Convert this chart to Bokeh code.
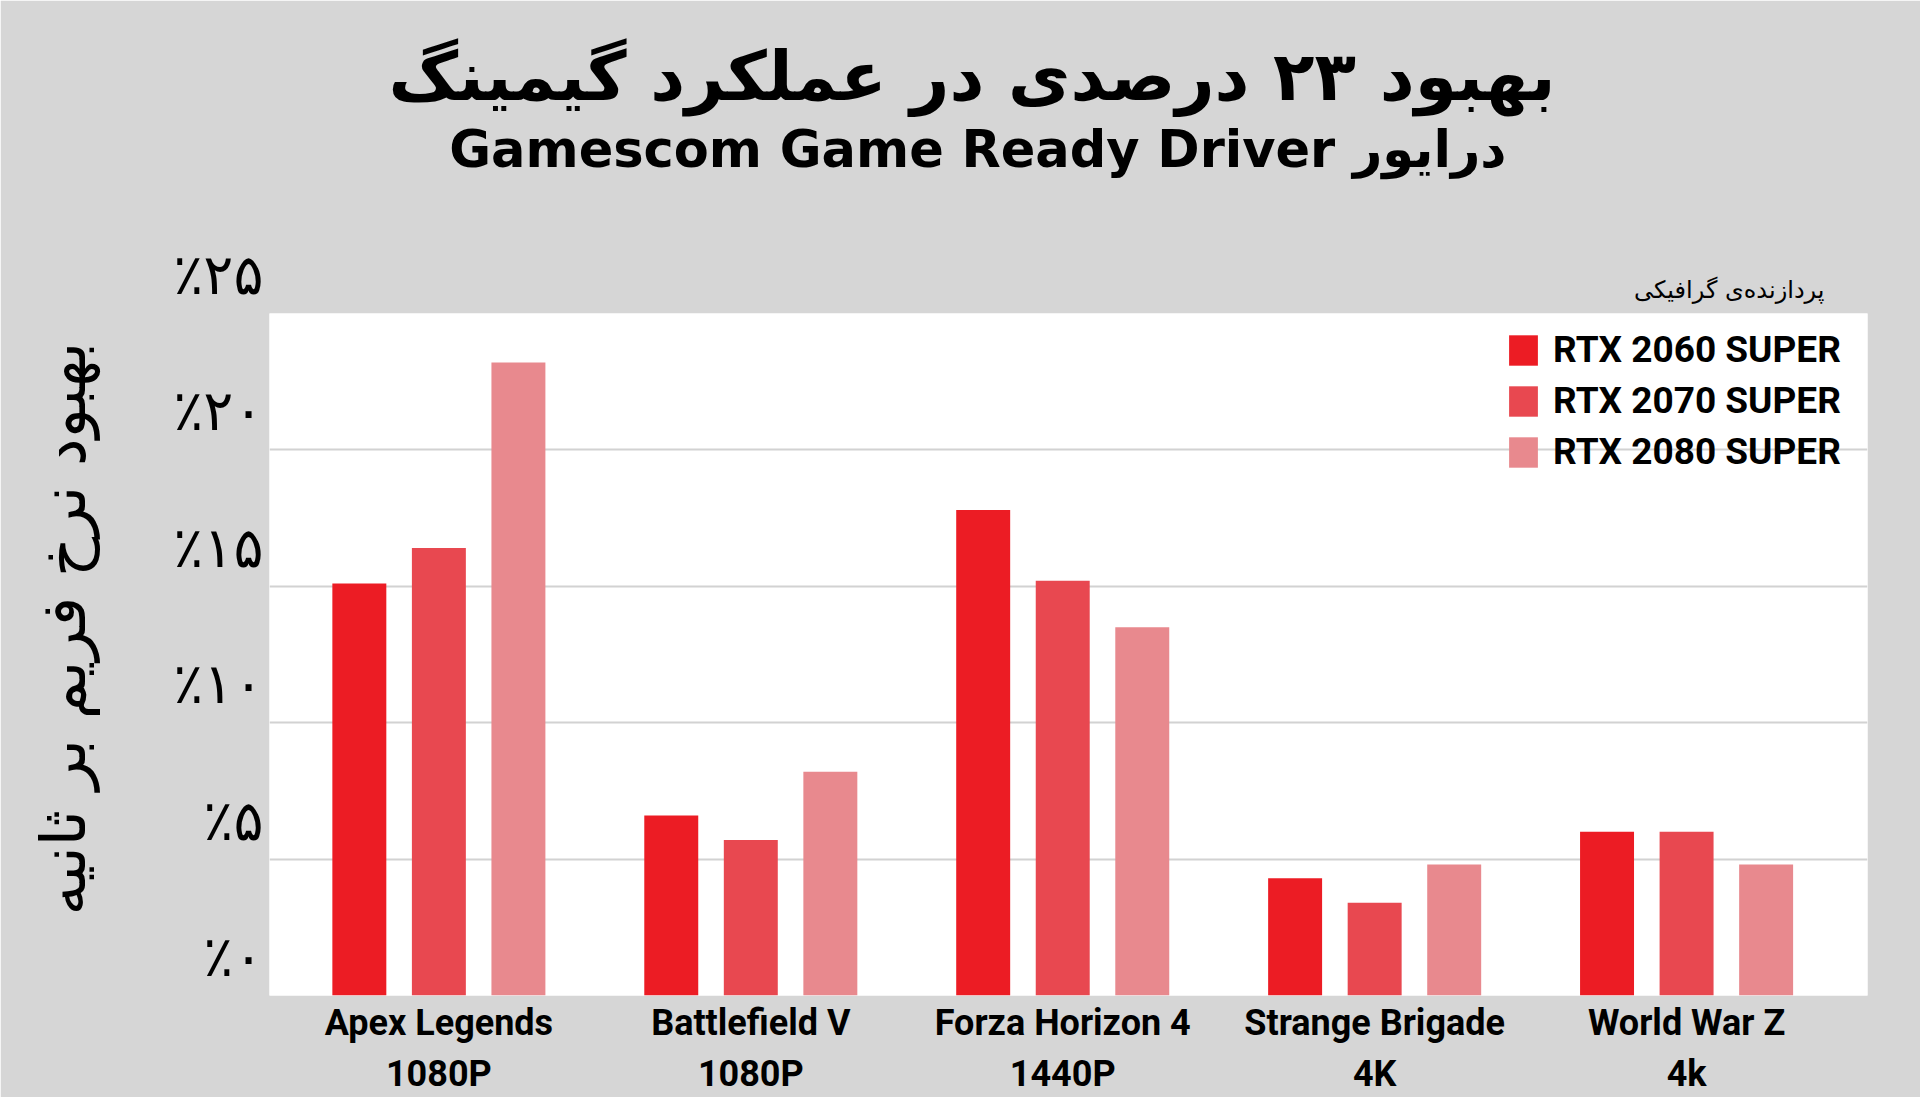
from bokeh.plotting import figure
from bokeh.models import (ColumnDataSource, Range1d, FixedTicker, LinearAxis,
                          Legend, LegendItem, Title)
from bokeh.transform import dodge
from bokeh.embed import file_html
from bokeh.resources import INLINE

# ---------------- data ----------------
games = ["Apex Legends", "Battlefield V", "Forza Horizon 4", "Strange Brigade", "World War Z"]
resolutions = ["1080P", "1080P", "1440P", "4K", "4k"]
gpus = ["RTX 2060 SUPER", "RTX 2070 SUPER", "RTX 2080 SUPER"]
rtx2060 = [15.1, 6.6, 17.8, 4.3, 6.0]
rtx2070 = [16.4, 5.7, 15.2, 3.4, 6.0]
rtx2080 = [23.2, 8.2, 13.5, 4.8, 4.8]
y_ticks = [0, 5, 10, 15, 20, 25]
y_tick_labels = ["٪۰", "٪۵", "٪۱۰", "٪۱۵", "٪۲۰", "٪۲۵"]

title_text = "بهبود ۲۳ درصدی در عملکرد گیمینگ"
subtitle_text = "Gamescom Game Ready Driver درایور"
y_title = "بهبود نرخ فریم بر ثانیه"
legend_title = "پردازنده‌ی گرافیکی"

colors = ["#ec1c24", "#e84850", "#e8898e"]
BG = "#d6d6d6"
FA_FONT = "DejaVu Sans"
EN_FONT = "Roboto"

idx = list(range(len(games)))
src = ColumnDataSource(dict(x=idx, rtx2060=rtx2060, rtx2070=rtx2070, rtx2080=rtx2080))

p = figure(width=1920, height=1097, output_backend="svg", toolbar_location=None,
           x_range=Range1d(-0.543, 4.58), y_range=Range1d(0, 25),
           min_border_left=269, min_border_right=53, min_border_top=313,
           min_border_bottom=102, x_axis_location=None)
p.background_fill_color = "white"
p.border_fill_color = BG
p.outline_line_color = None

# ---------------- bars ----------------
offsets = [-0.255, 0.0, 0.255]
keys = ["rtx2060", "rtx2070", "rtx2080"]
renderers = []
for off, key, col in zip(offsets, keys, colors):
    r = p.vbar(x=dodge("x", off, range=p.x_range), top=key, bottom=0, width=0.173,
               source=src, fill_color=col, line_color=None)
    renderers.append(r)

# ---------------- grid ----------------
p.xgrid.visible = False
p.ygrid.ticker = FixedTicker(ticks=y_ticks)
p.ygrid.grid_line_color = "#d2d2d2"
p.ygrid.grid_line_width = 2

# ---------------- y axis ----------------
ya = p.yaxis[0]
ya.ticker = FixedTicker(ticks=y_ticks)
# trailing newline lifts each label slightly above its grid line, as in the original
ya.major_label_overrides = {t: lab + "\n" for t, lab in zip(y_ticks, y_tick_labels)}
ya.major_label_text_font = FA_FONT
ya.major_label_text_font_size = "56px"
ya.major_label_text_color = "black"
ya.major_label_standoff = 6
ya.axis_line_color = None
ya.major_tick_line_color = None
ya.minor_tick_line_color = None
ya.major_tick_out = 0
ya.major_tick_in = 0
ya.axis_label = "\u00a0\u00a0\u2009" + y_title
ya.axis_label_text_font = FA_FONT
ya.axis_label_text_font_size = "62px"
ya.axis_label_text_font_style = "normal"
ya.axis_label_text_color = "black"
ya.axis_label_standoff = 70

# ---------------- x axes (two rows of labels) ----------------
def make_xaxis(labels, standoff):
    ax = LinearAxis(ticker=FixedTicker(ticks=idx),
                    major_label_overrides=dict(zip(idx, labels)))
    ax.major_label_text_font = EN_FONT
    ax.major_label_text_font_style = "bold"
    ax.major_label_text_font_size = "36px"
    ax.major_label_text_color = "black"
    ax.major_label_standoff = standoff
    ax.axis_line_color = None
    ax.major_tick_line_color = None
    ax.minor_tick_line_color = None
    ax.major_tick_out = 0
    ax.major_tick_in = 0
    return ax

p.add_layout(make_xaxis(games, 6), "below")
p.add_layout(make_xaxis(resolutions, 6), "below")

# ---------------- legend ----------------
legend = Legend(items=[LegendItem(label=g, renderers=[r]) for g, r in zip(gpus, renderers)],
                location=(1236, 522))
legend.background_fill_alpha = 0
legend.border_line_color = None
legend.padding = 0
legend.margin = 0
legend.spacing = 8
legend.glyph_width = 36
legend.glyph_height = 38
legend.label_height = 37
legend.label_standoff = 12
legend.label_text_font = EN_FONT
legend.label_text_font_style = "bold"
legend.label_text_font_size = "37px"
legend.label_text_color = "black"
p.add_layout(legend)

# ---------------- titles (stacked outward from the plot area) ----------------
p.add_layout(Title(text=legend_title, align="right", offset=43, standoff=20,
                   text_font=FA_FONT, text_font_style="normal", text_font_size="24px",
                   text_color="black"), "above")
p.add_layout(Title(text="\u00a0", align="right", standoff=72, text_font_size="10px",
                   text_color=BG), "above")   # spacer
p.add_layout(Title(text=subtitle_text, align="right", offset=361, standoff=0,
                   text_font="DejaVu Sans", text_font_style="bold", text_font_size="51px",
                   text_color="black"), "above")
p.add_layout(Title(text=title_text, align="right", offset=312, standoff=4,
                   text_font=FA_FONT, text_font_style="bold", text_font_size="68px",
                   text_color="black"), "above")

open("out.html", "w").write(file_html(p, INLINE))
